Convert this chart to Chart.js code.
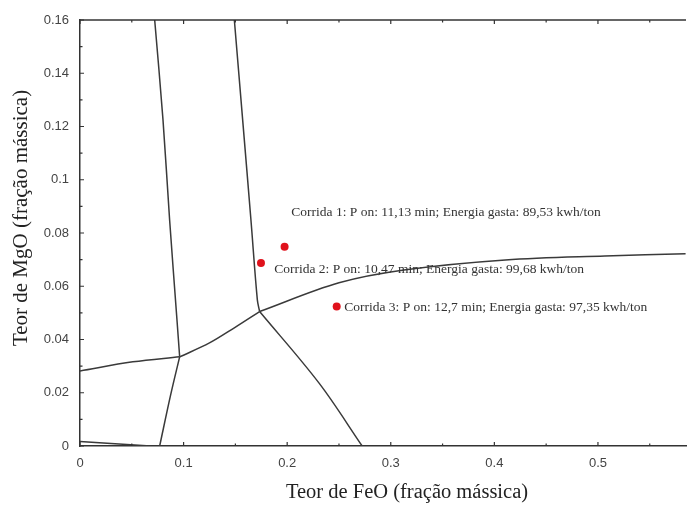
<!DOCTYPE html>
<html>
<head>
<meta charset="utf-8">
<script src="https://cdn.jsdelivr.net/npm/chart.js@4"></script>
<style>
  html, body { margin: 0; padding: 0; background: #fff; }
  #wrap { width: 690px; height: 505px; }
</style>
</head>
<body>
<div id="wrap"><canvas id="chart" width="690" height="505"></canvas></div>
<script>
// phase boundary curves, [FeO, MgO]
const lineA1 = [[0.0721, 0.160], [0.0801, 0.1226], [0.0865, 0.085], [0.0936, 0.0474], [0.0962, 0.0335]];
const lineA2 = [[0.0962, 0.0335], [0.0875, 0.0192], [0.0769, 0]];
const lineB = [[0.149, 0.160], [0.157, 0.1226], [0.165, 0.085], [0.1712, 0.0549], [0.1734, 0.0505]];
const lineC = [[0.1734, 0.0505], [0.25, 0.0613], [0.3144, 0.0662], [0.4106, 0.0699], [0.5067, 0.0714], [0.5846, 0.0722]];
const lineD = [[0.0962, 0.0335], [0.125, 0.0387], [0.149, 0.0444], [0.1734, 0.0505]];
const lineE = [[0, 0.0282], [0.051, 0.0316], [0.0962, 0.0335]];
const lineF = [[0.1734, 0.0505], [0.2308, 0.0236], [0.2724, 0]];
const lineG = [[0, 0.0017], [0.03, 0.0009], [0.068, 0]];

// runs
const runFeO = [0.1975, 0.1747, 0.2478];
const runMgO = [0.0748, 0.0687, 0.0524];
const runLabels = [
  "Corrida 1: P on: 11,13 min; Energia gasta: 89,53 kwh/ton",
  "Corrida 2: P on: 10,47 min; Energia gasta: 99,68 kwh/ton",
  "Corrida 3: P on: 12,7 min; Energia gasta: 97,35 kwh/ton"
];
const labelFeO = [0.204, 0.1875, 0.255];
const labelMgO = [0.0876, 0.0662, 0.0519];

const xTicks = [0, 0.1, 0.2, 0.3, 0.4, 0.5];
const yTicks = [0, 0.02, 0.04, 0.06, 0.08, 0.1, 0.12, 0.14, 0.16];

const xTitle = "Teor de FeO (fração mássica)";
const yTitle = "Teor de MgO (fração mássica)";

const curves = [lineA1, lineA2, lineB, lineC, lineD, lineE, lineF, lineG];

function curveDataset(pts) {
  return {
    data: pts.map(p => ({ x: p[0], y: p[1] })),
    showLine: true,
    borderColor: "#3a3a3a",
    borderWidth: 1.5,
    pointRadius: 0,
    tension: 0.35,
    fill: false
  };
}

const frame = {
  id: "frame",
  afterDraw(chart) {
    const ctx = chart.ctx;
    const a = chart.chartArea;
    const xs = chart.scales.x;
    const ys = chart.scales.y;
    ctx.save();
    ctx.strokeStyle = "#333";
    ctx.lineWidth = 1.5;
    ctx.beginPath();
    ctx.moveTo(a.left, a.top);
    ctx.lineTo(a.right, a.top);
    ctx.stroke();

    // inward ticks
    ctx.lineWidth = 1.2;
    ctx.beginPath();
    for (let v = 0; v <= xs.max + 1e-9; v += 0.05) {
      const px = xs.getPixelForValue(v);
      const len = Math.abs(v * 10 - Math.round(v * 10)) < 1e-6 ? 4 : 2.5;
      ctx.moveTo(px, a.bottom); ctx.lineTo(px, a.bottom - len);
      ctx.moveTo(px, a.top); ctx.lineTo(px, a.top + len);
    }
    for (let v = 0; v <= ys.max + 1e-9; v += 0.01) {
      const py = ys.getPixelForValue(v);
      const len = Math.abs(v * 50 - Math.round(v * 50)) < 1e-6 ? 4 : 2.5;
      ctx.moveTo(a.left, py); ctx.lineTo(a.left + len, py);
    }
    ctx.stroke();

    // run labels
    ctx.fillStyle = "#333";
    ctx.font = "13.5px 'Liberation Serif', 'Times New Roman', serif";
    ctx.textBaseline = "middle";
    ctx.textAlign = "left";
    runLabels.forEach((t, i) => {
      ctx.fillText(t, xs.getPixelForValue(labelFeO[i]), ys.getPixelForValue(labelMgO[i]));
    });

    // axis titles
    ctx.fillStyle = "#222";
    ctx.textAlign = "center";
    ctx.font = "20.5px 'Liberation Serif', 'Times New Roman', serif";
    ctx.fillText(xTitle, 407, 493);
    ctx.translate(21, 218);
    ctx.rotate(-Math.PI / 2);
    ctx.font = "21px 'Liberation Serif', 'Times New Roman', serif";
    ctx.fillText(yTitle, 0, 0);
    ctx.restore();
  }
};

const datasets = curves.map(curveDataset);
datasets.push({
  data: runFeO.map((x, i) => ({ x: x, y: runMgO[i] })),
  showLine: false,
  pointRadius: 4,
  pointBackgroundColor: "#e0121c",
  pointBorderWidth: 0
});

new Chart(document.getElementById("chart"), {
  type: "scatter",
  data: { datasets: datasets },
  options: {
    responsive: false,
    animation: false,
    layout: { padding: { top: 20, right: 1, left: 0, bottom: 0 } },
    plugins: { legend: { display: false }, tooltip: { enabled: false } },
    scales: {
      x: {
        type: "linear",
        min: 0,
        max: 0.585,
        afterBuildTicks: s => { s.ticks = xTicks.map(v => ({ value: v })); },
        afterFit: s => { s.height = 59; },
        grid: { drawOnChartArea: false, drawTicks: false },
        border: { display: true, color: "#333", width: 1.5 },
        ticks: {
          padding: 10,
          color: "#444",
          font: { family: "'Liberation Sans', Arial, sans-serif", size: 13 },
          callback: v => String(+v.toFixed(2))
        }
      },
      y: {
        type: "linear",
        min: 0,
        max: 0.16,
        afterBuildTicks: s => { s.ticks = yTicks.map(v => ({ value: v })); },
        afterFit: s => { s.width = 80; },
        grid: { drawOnChartArea: false, drawTicks: false },
        border: { display: true, color: "#333", width: 1.5 },
        ticks: {
          padding: 11,
          color: "#444",
          font: { family: "'Liberation Sans', Arial, sans-serif", size: 13 },
          callback: v => String(+v.toFixed(2))
        }
      }
    }
  },
  plugins: [frame]
});
</script>
</body>
</html>
